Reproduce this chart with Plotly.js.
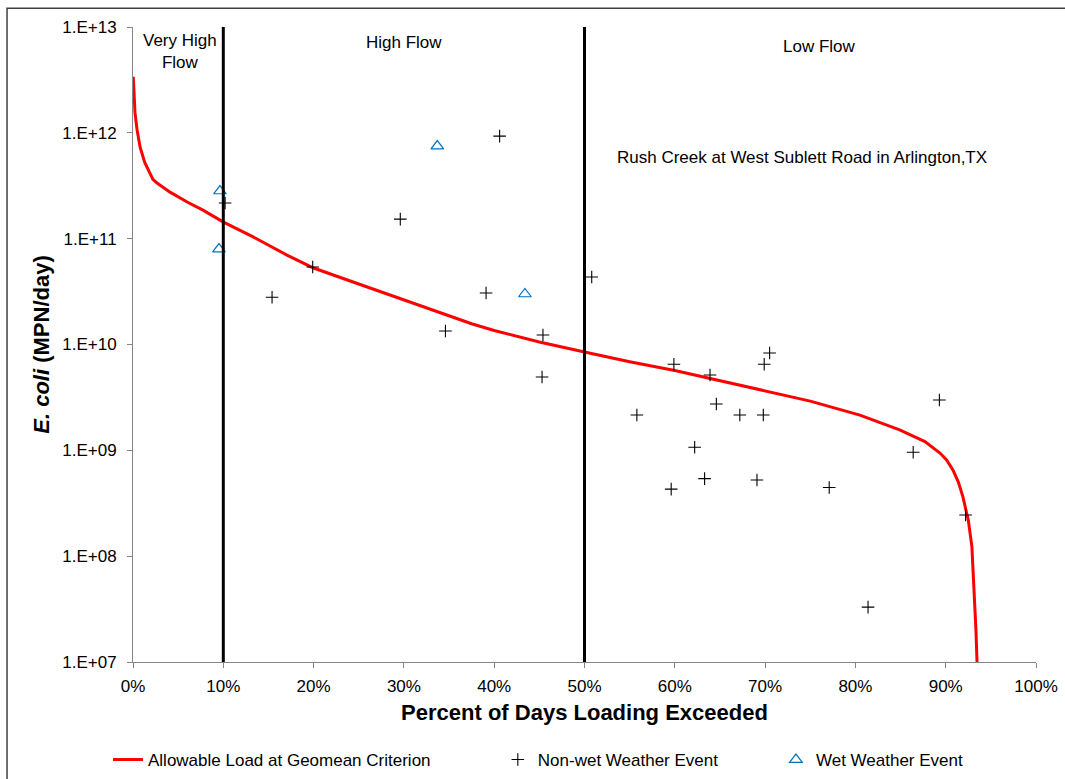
<!DOCTYPE html>
<html>
<head>
<meta charset="utf-8">
<script src="https://cdn.plot.ly/plotly-3.0.1.min.js"></script>
<style>
  html, body { margin: 0; padding: 0; background: #ffffff; }
  #chart { width: 1065px; height: 779px; }
</style>
</head>
<body>
<div id="chart"></div>
<script>
// Allowable load duration curve (fraction of days exceeded, MPN/day)
const curveX = [0.0003, 0.001, 0.0022, 0.0045, 0.0078, 0.013, 0.0188, 0.022, 0.0266, 0.041, 0.060, 0.0775, 0.0997, 0.133, 0.1705, 0.20, 0.25, 0.30, 0.35, 0.375, 0.40, 0.425, 0.45, 0.50, 0.55, 0.60, 0.65, 0.70, 0.75, 0.805, 0.849, 0.877, 0.885, 0.894, 0.901, 0.908, 0.914, 0.919, 0.922, 0.925, 0.929, 0.931, 0.9335, 0.935];
const curveY = [3.39e12, 2.14e12, 1.55e12, 1.07e12, 7.35e11, 5.25e11, 4.17e11, 3.63e11, 3.36e11, 2.75e11, 2.22e11, 1.86e11, 1.44e11, 1.04e11, 7.0e10, 5.28e10, 3.73e10, 2.63e10, 1.84e10, 1.57e10, 1.355e10, 1.19e10, 1.057e10, 8.49e9, 6.87e9, 5.68e9, 4.57e9, 3.67e9, 2.92e9, 2.15e9, 1.56e9, 1.21e9, 1.07e9, 9.38e8, 8.13e8, 6.52e8, 5.01e8, 3.65e8, 2.82e8, 2.19e8, 1.23e8, 5.96e7, 2.0e7, 8.3e6];

// Non-wet weather event samples
const dryX = [0.102, 0.154, 0.199, 0.296, 0.346, 0.391, 0.406, 0.454, 0.453, 0.508, 0.558, 0.599, 0.596, 0.622, 0.633, 0.639, 0.646, 0.672, 0.691, 0.698, 0.699, 0.705, 0.771, 0.814, 0.864, 0.893, 0.922];
const dryY = [2.17e11, 2.8e10, 5.4e10, 1.53e11, 1.34e10, 3.07e10, 9.3e11, 1.23e10, 4.93e9, 4.35e10, 2.16e9, 6.5e9, 4.3e8, 1.07e9, 5.4e8, 5.15e9, 2.74e9, 2.16e9, 5.25e8, 2.16e9, 6.5e9, 8.3e9, 4.45e8, 3.3e7, 9.6e8, 2.99e9, 2.45e8];

// Wet weather event samples
const wetX = [0.0963, 0.0952, 0.337, 0.434];
const wetY = [2.82e11, 7.98e10, 7.5e11, 3.0e10];

// Flow regime breaks and labels
const flowBreaks = [0.1, 0.5];
const regionLabels = ["Very High<br>Flow", "High Flow", "Low Flow"];
const regionLabelX = [0.052, 0.30, 0.76];
const regionLabelY = [0.962, 0.976, 0.970];
const siteName = "Rush Creek at West Sublett Road in Arlington,TX";

// Axis ticks
const yTickVals = [1e7, 1e8, 1e9, 1e10, 1e11, 1e12, 1e13];
const yTickText = ["1.E+07", "1.E+08", "1.E+09", "1.E+10", "1.E+11", "1.E+12", "1.E+13"];

const FONT = "Liberation Sans, Arial, sans-serif";
const FS = 17;

const traces = [
  {
    x: curveX, y: curveY, type: "scatter", mode: "lines",
    name: "Allowable Load at Geomean Criterion", legend: "legend",
    line: { color: "#ff0000", width: 3 }
  },
  {
    x: dryX, y: dryY, type: "scatter", mode: "markers",
    name: "Non-wet Weather Event", legend: "legend2",
    marker: { symbol: "cross-thin-open", size: 9, color: "#000000", line: { color: "#000000", width: 1.1 } }
  },
  {
    x: wetX, y: wetY, type: "scatter", mode: "markers",
    name: "Wet Weather Event", legend: "legend3",
    marker: { symbol: "triangle-up-open", size: 11, color: "#0070c0", line: { color: "#0070c0", width: 1.2 } }
  }
];

const shapes = flowBreaks.map(b => ({
  type: "line", xref: "x", yref: "paper", x0: b, x1: b, y0: 0, y1: 1,
  line: { color: "#000000", width: 3 }
}));
// outer chart border
shapes.push({
  type: "rect", xref: "paper", yref: "paper",
  x0: -0.1395, x1: 1.1, y0: -0.25, y1: 1.0295,
  line: { color: "#404040", width: 1.5 }, fillcolor: "rgba(0,0,0,0)", layer: "below"
});

const annotations = regionLabels.map((t, i) => ({
  text: t, xref: "paper", yref: "paper", x: regionLabelX[i], y: regionLabelY[i],
  showarrow: false, xanchor: "center", yanchor: "middle",
  font: { family: FONT, size: FS, color: "#000000" }
}));
annotations.push({
  text: siteName, xref: "paper", yref: "paper", x: 0.741, y: 0.794,
  showarrow: false, xanchor: "center", yanchor: "middle",
  font: { family: FONT, size: FS, color: "#000000" }
});

function legendAt(x) {
  return {
    orientation: "h", x: x, xanchor: "left", y: -0.1543, yanchor: "middle",
    font: { family: FONT, size: FS, color: "#000000" },
    bgcolor: "rgba(0,0,0,0)", borderwidth: 0
  };
}

const layout = {
  width: 1065, height: 779,
  margin: { l: 133, r: 29, t: 27, b: 117, autoexpand: false },
  paper_bgcolor: "#ffffff", plot_bgcolor: "#ffffff",
  font: { family: FONT, size: FS, color: "#000000" },
  showlegend: true,
  legend: legendAt(-0.0277),
  legend2: legendAt(0.404),
  legend3: legendAt(0.712),
  xaxis: {
    range: [0, 1], dtick: 0.1, tick0: 0, tickformat: ".0%",
    showgrid: false, zeroline: false,
    showline: true, linecolor: "#868686", linewidth: 1,
    ticks: "outside", ticklen: 5, tickcolor: "#868686",
    ticklabelstandoff: 4,
    tickfont: { family: FONT, size: FS, color: "#000000" },
    title: { text: "<b>Percent of Days Loading Exceeded</b>", font: { family: FONT, size: 22, color: "#000000" }, standoff: 9 }
  },
  yaxis: {
    type: "log", range: [7, 13],
    tickvals: yTickVals, ticktext: yTickText,
    showgrid: false, zeroline: false,
    showline: true, linecolor: "#868686", linewidth: 1,
    ticks: "outside", ticklen: 5, tickcolor: "#868686",
    ticklabelstandoff: 7,
    tickfont: { family: FONT, size: FS, color: "#000000" },
    title: { text: "<b><i>E. coli</i> (MPN/day)</b>", font: { family: FONT, size: 22, color: "#000000" }, standoff: 6 }
  },
  shapes: shapes,
  annotations: annotations
};

Plotly.newPlot("chart", traces, layout, { displayModeBar: false, staticPlot: true });
</script>
</body>
</html>
